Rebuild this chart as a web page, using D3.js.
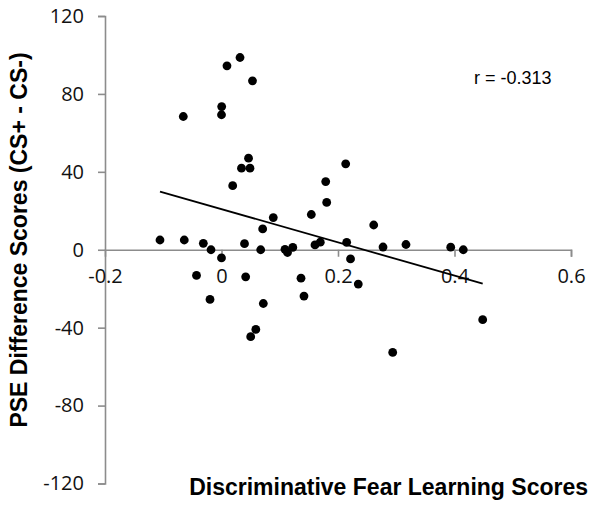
<!DOCTYPE html>
<html>
<head>
<meta charset="utf-8">
<script src="https://cdn.jsdelivr.net/npm/d3@7"></script>
<style>
  body { margin: 0; background: #fff; }
</style>
</head>
<body>
<div id="chart"></div>
<script>
// discriminative fear learning score (x) vs PSE difference score (y)
var fearScores = [-0.1056, -0.0656, -0.0639, -0.0429, -0.0312, -0.0197, -0.018, 0.0, 0.0003, 0.0,
    0.0094, 0.0192, 0.0318, 0.0343, 0.0395, 0.0415, 0.0464, 0.0489, 0.0501, 0.0532,
    0.0589, 0.0673, 0.0707, 0.0718, 0.0889, 0.109, 0.1133, 0.1224, 0.1365, 0.1416,
    0.1542, 0.1605, 0.1696, 0.1789, 0.1806, 0.2132, 0.2149, 0.2215, 0.2348, 0.2613,
    0.2773, 0.2939, 0.3167, 0.3935, 0.4151, 0.4484]
var pseScores = [5.0, 68.4, 5.0, -13.2, 3.3, -25.5, 0, -4.2, 73.5, 69.3,
    94.4, 32.9, 98.7, 41.9, 3.1, -13.9, 47.0, 41.9, -44.6, 86.7,
    -40.9, 0, 10.7, -27.6, 16.5, 0.2, -1.4, 1.2, -14.6, -23.8,
    18.1, 2.5, 3.9, 35.0, 24.3, 44.1, 3.8, -4.7, -17.6, 12.7,
    1.4, -52.7, 2.7, 1.3, 0, -35.9]

var xTicks = [-0.2, 0, 0.2, 0.4, 0.6]
var yTicks = [-120, -80, -40, 0, 40, 80, 120]

// linear fit shown in the figure
var fitSlope = -85.3
var fitIntercept = 20.85
var rLabel = "r = -0.313"

var svgSize = { width: 600, height: 511 }

var svg = d3.select("#chart").append("svg")
    .attr("width", svgSize.width)
    .attr("height", svgSize.height)

var xScale = d3.scaleLinear().domain([-0.2, 0.6]).range([105, 571])
var yScale = d3.scaleLinear().domain([-120, 120]).range([483.5, 16])

var axisColor = "#8c8c8c"

// y axis on the left
var leftAxis = d3.axisLeft(yScale).tickValues(yTicks).tickSize(7).tickPadding(14)
    .tickFormat(d => String(d))
var yAxis = svg.append("g").attr("transform", `translate(${xScale(-0.2)},0)`).call(leftAxis)

// x axis crosses at y = 0
var bottomAxis = d3.axisBottom(xScale).tickValues(xTicks).tickSize(7).tickPadding(12)
    .tickFormat(d => d === 0 ? "0" : d.toFixed(1))
var xAxis = svg.append("g").attr("transform", `translate(0,${yScale(0)})`).call(bottomAxis)

;[xAxis, yAxis].forEach(ax => {
    ax.select(".domain").attr("stroke", axisColor).attr("stroke-width", 1.6)
    ax.selectAll(".tick line").attr("stroke", axisColor).attr("stroke-width", 1.6)
    ax.selectAll(".tick text")
        .style("font-family", "'Open Sans', sans-serif")
        .style("font-size", "20px")
        .attr("fill", "#111")
})
// no tick on the y axis end for -0.2
xAxis.selectAll(".tick").filter(d => d === -0.2).select("line").remove()

// trend line over the data range
var xExtent = d3.extent(fearScores)
var line = d3.line().x(d => xScale(d)).y(d => yScale(fitIntercept + fitSlope * d))
svg.append("path")
    .datum(xExtent)
    .attr("d", line)
    .attr("fill", "none")
    .attr("stroke", "#000")
    .attr("stroke-width", 1.8)

svg.append("g").selectAll("circle").data(fearScores).enter().append("circle")
    .attr("cx", d => xScale(d))
    .attr("cy", (d, i) => yScale(pseScores[i]))
    .attr("r", 4.4)
    .attr("fill", "#000")

svg.append("text")
    .attr("x", 474).attr("y", 83.5)
    .style("font-family", "'Liberation Sans', Arial, sans-serif")
    .style("font-size", "18px")
    .text(rLabel)

svg.append("text")
    .attr("x", 588).attr("y", 495)
    .attr("text-anchor", "end")
    .style("font-family", "'Liberation Sans', Arial, sans-serif")
    .style("font-size", "23px")
    .style("font-weight", "bold")
    .text("Discriminative Fear Learning Scores")

svg.append("text")
    .attr("transform", "translate(27,240) rotate(-90)")
    .attr("text-anchor", "middle")
    .style("font-family", "'Liberation Sans', Arial, sans-serif")
    .style("font-size", "23px")
    .style("font-weight", "bold")
    .text("PSE Difference Scores (CS+ - CS-)")
</script>
</body>
</html>
